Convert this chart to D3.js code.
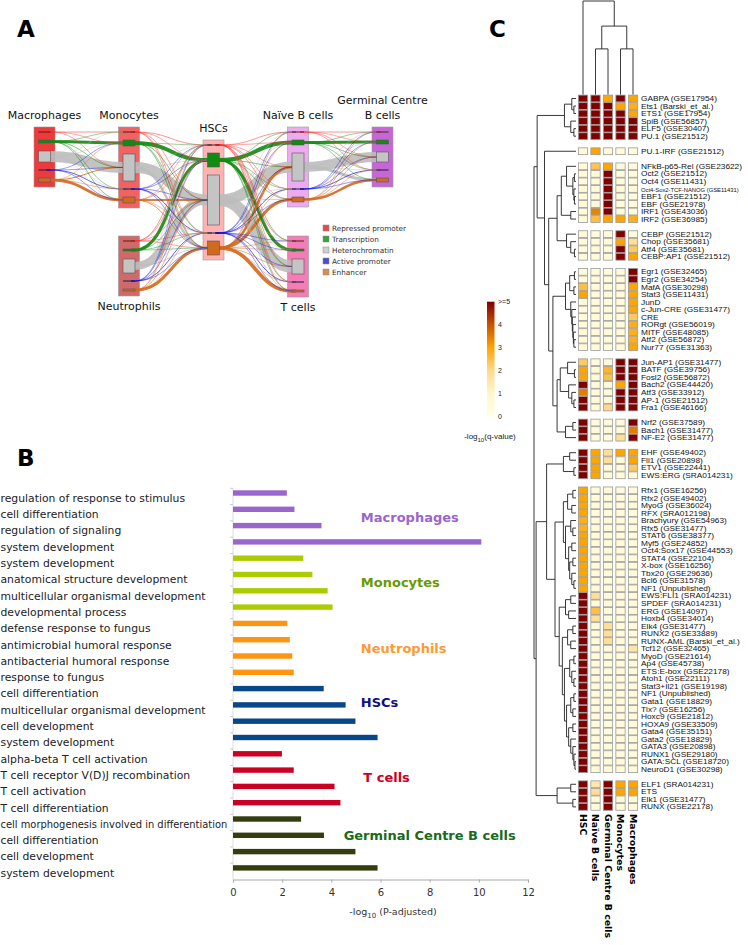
<!DOCTYPE html>
<html><head><meta charset="utf-8">
<script src="https://cdn.jsdelivr.net/npm/d3@7"></script>
<style>body{margin:0;background:#fff}svg{display:block}</style>
</head><body>
<svg id="fig" width="748" height="945"></svg>
<script>
// ================= DATA =================
// ---- Panel A: chromatin state flows
const cellTypes = ["Macrophages","Monocytes","HSCs","Naïve B cells","Germinal Centre B cells","Neutrophils","T cells"];
const cellLabelLines = [["Macrophages"],["Monocytes"],["HSCs"],["Naïve B cells"],["Germinal Centre","B cells"],["Neutrophils"],["T cells"]];
const cellColumn = [0,1,2,3,4,1,3];
const cellTier = ["upper","upper","middle","upper","upper","lower","lower"];
const states = ["Repressed promoter","Transcription","Heterochromatin","Active promoter","Enhancer"];
// relative size of each state (R,T,H,A,E) per cell type
const stateSizeMac  = [0,3,11,0,4];
const stateSizeMono = [0,6,27,0,6];
const stateSizeHSC  = [0,14,50,0,14];
const stateSizeNaive= [0,5,28,0,5];
const stateSizeGC   = [0,4,10,0,4];
const stateSizeNeu  = [0,2,14,0,2];
const stateSizeT    = [0,2,15,0,2];
const stateSizes = [stateSizeMac,stateSizeMono,stateSizeHSC,stateSizeNaive,stateSizeGC,stateSizeNeu,stateSizeT];
const flowPairs = [["Macrophages","Monocytes"],["Monocytes","HSCs"],["Neutrophils","HSCs"],["HSCs","Naïve B cells"],["HSCs","T cells"],["Naïve B cells","Germinal Centre B cells"]];
const flowMacMono = [[0.6,0.5,0.5,0,0],[0.5,3,0.6,0.5,0.6],[0.5,0.6,11,0.5,0.5],[0,0.5,0.5,0.8,0.5],[0,0.5,1,0.5,3]];
const flowMonoHSC = [[0.6,0.5,0.5,0.5,0.5],[0.5,4,0.6,0.5,0.6],[0.5,0.6,11,0.5,2.5],[0.5,0.5,0.5,0.8,0.5],[0.5,0.5,2,0.5,0.8]];
const flowNeuHSC  = [[0.6,0.5,0.5,0.5,0.5],[0.5,3,0.5,0.5,0.5],[0.5,0.5,8,0.5,0.8],[0.5,0.5,0.5,0.8,0.5],[0.5,0.5,0.6,0.5,3]];
const flowHSCNaive= [[0.6,0.5,0.5,0.5,0.5],[0.5,4,0.6,0.5,0.5],[0.5,0.6,11,0.5,0.8],[0.5,0.5,0.5,0.8,0.5],[0.5,0.5,2.5,0.5,3]];
const flowHSCT    = [[0.6,0.5,0.5,0.5,0.5],[0.5,3,0.5,0.5,0.5],[0.5,0.5,12,0.5,0.8],[0.5,0.5,0.5,0.8,0.5],[0.5,0.5,0.6,0.5,3.5]];
const flowNaiveGC = [[0.6,0.5,0.5,0.5,0],[0.5,3,0.6,0.5,0.5],[0.5,0.6,10,0.5,3],[0.5,0.5,0.5,0.8,0.5],[0.5,0.5,0.6,0.5,2.5]];
const flowMatrices = [flowMacMono,flowMonoHSC,flowNeuHSC,flowHSCNaive,flowHSCT,flowNaiveGC];

// ---- Panel B: GO enrichment
const goTerms = ["regulation of response to stimulus","cell differentiation","regulation of signaling","system development",
 "system development","anatomical structure development","multicellular organismal development","developmental process",
 "defense response to fungus","antimicrobial humoral response","antibacterial humoral response","response to fungus",
 "cell differentiation","multicellular organismal development","cell development","system development",
 "alpha-beta T cell activation","T cell receptor V(D)J recombination","T cell activation","T cell differentiation",
 "cell morphogenesis involved in differentiation","cell differentiation","cell development","system development"];
const goValues = [2.19,2.5,3.6,10.1, 2.86,3.23,3.85,4.05, 2.21,2.31,2.41,2.47, 3.69,4.58,4.98,5.88, 1.99,2.47,4.13,4.37, 2.77,3.7,4.98,5.88];
const goGroupOf = [0,0,0,0,1,1,1,1,2,2,2,2,3,3,3,3,4,4,4,4,5,5,5,5];
const goGroups = ["Macrophages","Monocytes","Neutrophils","HSCs","T cells","Germinal Centre B cells"];
const goTicks = [0,2,4,6,8,10,12];
const goLabelRow = [1.76,5.75,9.8,13.1,17.76,21.3];
const goLabelValue = [5.2,5.2,5.2,5.2,5.3,4.5];

// ---- Panel C: motif enrichment heatmap
const motifColumns = ["HSC","Naïve B cells","Germinal Centre B cells","Monocytes","Macrophages"];
const motifs = ["GABPA (GSE17954)","Ets1 (Barski_et_al.)","ETS1 (GSE17954)","SpiB (GSE56857)","ELF5 (GSE30407)","PU.1 (GSE21512)",
 "PU.1-IRF (GSE21512)",
 "NFkB-p65-Rel (GSE23622)","Oct2 (GSE21512)","Oct4 (GSE11431)","Oct4-Sox2-TCF-NANOG (GSE11431)","EBF1 (GSE21512)","EBF (GSE21978)","IRF1 (GSE43036)","IRF2 (GSE36985)",
 "CEBP (GSE21512)","Chop (GSE35681)","Atf4 (GSE35681)","CEBP:AP1 (GSE21512)",
 "Egr1 (GSE32465)","Egr2 (GSE34254)","MafA (GSE30298)","Stat3 (GSE11431)","JunD","c-Jun-CRE (GSE31477)","CRE","RORgt (GSE56019)","MITF (GSE48085)","Atf2 (GSE56872)","Nur77 (GSE31363)",
 "Jun-AP1 (GSE31477)","BATF (GSE39756)","Fosl2 (GSE56872)","Bach2 (GSE44420)","Atf3 (GSE33912)","AP-1 (GSE21512)","Fra1 (GSE46166)",
 "Nrf2 (GSE37589)","Bach1 (GSE31477)","NF-E2 (GSE31477)",
 "EHF (GSE49402)","Fli1 (GSE20898)","ETV1 (GSE22441)","EWS:ERG (SRA014231)",
 "Rfx1 (GSE16256)","Rfx2 (GSE49402)","MyoG (GSE36024)","RFX (SRA012198)","Brachyury (GSE54963)","Rfx5 (GSE31477)","STAT6 (GSE38377)","Myf5 (GSE24852)","Oct4:Sox17 (GSE44553)","STAT4 (GSE22104)","X-box (GSE16256)","Tbx20 (GSE29636)","Bcl6 (GSE31578)","NF1 (Unpublished)",
 "EWS:FLI1 (SRA014231)","SPDEF (SRA014231)","ERG (GSE14097)","Hoxb4 (GSE34014)","Elk4 (GSE31477)","RUNX2 (GSE33889)","RUNX-AML (Barski_et_al.)","Tcf12 (GSE32465)",
 "MyoD (GSE21614)","Ap4 (GSE45738)","ETS:E-box (GSE22178)","Atoh1 (GSE22111)","Stat3+Il21 (GSE19198)","NF1 (Unpublished)","Gata1 (GSE18829)","Tlx? (GSE16256)","Hoxc9 (GSE21812)","HOXA9 (GSE33509)","Gata4 (GSE35151)","Gata2 (GSE18829)","GATA3 (GSE20898)","RUNX1 (GSE29180)","GATA:SCL (GSE18720)","NeuroD1 (GSE30298)",
 "ELF1 (SRA014231)","ETS","Elk1 (GSE31477)","RUNX (GSE22178)"];
const motifBlockSizes = [6,1,8,4,11,7,3,4,38,4];
const scoreHSC = [5,5,5,5,5,5, .5, .5,.5,.5,.5,.5,.5,.5,.5, .5,.5,.5,.5,
 .5,.5,2.5,3,.5,.5,.5,.5,.5,.5,.5, 2.3,3,3,5,3.5,5,5, 5,5,5, 5,5,5,5,
 3,3,3,3,2.8,2.8,3,3,3,3,3,3,3,3,
 5,5,5,5,5,5,5,5, 5,5,5,5,5,5,5,5,5,5,5,5,5,5,5,5, 5,5,5,5];
const scoreNaive = [5,5,5,5,5,5, 3, 2.4,.5,.5,.5,.5,.5,3.4,2.5, .5,.5,.5,.5,
 .5,.5,.5,.5,.5,.5,.5,.5,.5,.5,.5, .5,.5,.5,.5,.5,.5,.5, .5,.5,.5, 3,3,3,3,
 .5,.5,.5,.5,.5,.5,.5,.5,.5,.5,.5,.5,.5,.5,
 1.8,.5,2.5,1.8,.5,.5,.5,.5, .5,.5,.5,.5,.5,.5,.5,.5,.5,.5,.5,.5,.5,.5,.5,.5, 1.5,1.8,.5,.5];
const scoreGC = [3,5,5,5,5,5, .5, 3,5,5,5,5,5,5,3, .5,.5,.5,.5,
 .5,.5,.5,.5,.5,.5,.5,.5,.5,.5,.5, .5,2.7,2.5,.5,.5,.5,2, .5,.5,.5, 1.8,1.8,.5,.5,
 .5,.5,.5,.5,.5,.5,.5,.5,.5,.5,.5,.5,.5,.5,
 .5,.5,.5,.5,1.8,1.8,1.8,.5, .5,.5,.5,.5,.5,.5,.5,.5,.5,.5,.5,.5,.5,.5,.5,.5, 5,5,5,5];
const scoreMono = [5,3,5,5,5,5, .5, .5,.5,.5,.5,.5,.5,.5,3, 5,3,5,5,
 .5,.5,.5,.5,.5,.5,.5,.5,.5,.5,.5, 5,5,5,3,5,5,5, .5,.5,1.8, 3,.5,.5,.5,
 .5,.5,.5,.5,.5,.5,.5,.5,.5,.5,.5,.5,.5,.5,
 .5,.5,.5,.5,.5,.5,.5,.5, .5,.5,.5,.5,.5,.5,.5,.5,.5,.5,.5,.5,.5,.5,.5,.5, 3,3,.5,.5];
const scoreMac = [3,2.8,3,5,5,5, .5, .5,.5,.5,.5,.5,.5,.5,2.8, .5,1.8,2.3,3,
 5,5,3,3,3,3,2.3,2.8,2.8,2.8,3, 5,5,5,5,5,5,5, 5,3.5,5, 3,3,2.3,.5,
 .5,.5,.5,.5,.5,.5,.5,.5,.5,.5,.5,.5,.5,.5,
 .5,.5,.5,.5,.5,.5,.5,1.6, .5,.5,.5,.5,.5,.5,.5,.5,.5,.5,.5,.5,.5,.5,.5,.5, 3,3,.5,.5];
const motifScores = [scoreHSC,scoreNaive,scoreGC,scoreMono,scoreMac];
const legendTicks = [0,1,2,3,4,5];
const legendTickLabels = ["0","1","2","3","4",">=5"];
// row dendrogram: [height, left, right], leaves = row index
const rowTree = [40,
 [37, [11,[4,0,[2,1,2]],[5,3,[2,4,5]]],
   [30, 6,
     [26,
       [18, [14,[9,7,[3,[1.5,8,9],[2,10,[1.5,11,12]]]],[5,13,14]], [9,15,[5,16,[1.5,17,18]]]],
       [22, [10,[6,[1.5,19,20],[2,21,22]],[5,23,[4,24,[3.5,25,[3,26,[2.5,27,[2,28,29]]]]]]],
            [18, [15,[8,30,[1.5,31,32]],[7,33,[4,34,[2,35,36]]]], [10,[3,37,38],39]]]]]],
 [38,
   [28, [12,[6,40,41],[2,42,43]],
        [20, [12,[8,[3,44,45],[4,46,47]],[10,[5,48,[3,49,50]],[7,[4,51,52],[6,[3,53,54],[4,55,[2,56,57]]]]]],
             [16,[10,[5,58,59],[7,60,61]],[13,[8,[3,62,63],[5,64,65]],[11,[6,[2,66,67],[4,68,[2,69,70]]],[9,[5,[2,71,72],[3,73,74]],[7,[3,75,76],[5,77,[3,78,[2,79,[1,80,81]]]]]]]]]]],
   [18,[5,82,83],[3,84,85]]]];
// column dendrogram (columns by index)
const colTree = [2.05, 0, [1.5, [1.0,1,2], [1.0,3,4]]];

// ================= DRAW =================
const svg = d3.select("#fig");
const SANS = "'DejaVu Sans', sans-serif";
const ARIAL = "'Liberation Sans', Arial, sans-serif";

svg.selectAll("text.panel").data([["A",17,37],["B",17,466],["C",489,37]]).join("text")
  .attr("x",d=>d[1]).attr("y",d=>d[2]).text(d=>d[0])
  .attr("font-family",SANS).attr("font-weight","bold").attr("font-size",23).attr("fill","#000");

// ---------- Panel A ----------
const gA = svg.append("g");
const colX = d3.scaleLinear().domain([0,4]).range([44.5,382.5]);
const tierTop = d3.scaleOrdinal().domain(["upper","middle","lower"]).range([127,140,236]);
const PAD=5, GAP=8, BOXW=21, INW=12;
const boxFill = ["#ee3a3a","#f16262","#ffb2b2","#eeaaf0","#c767d6","#d06a6a","#f47db5"];
const linkColor = ["#ff2a2a","#118a11","#bdbdbd","#1414e0","#d2691e"];
const legendColor = ["#e84a4a","#3da03d","#cfcfcf","#4b4bd6","#d98c56"];
const nodes = cellTypes.map((name,i)=>{
  const top = tierTop(cellTier[i]);
  let y = top + PAD;
  const st = stateSizes[i].map(s=>{const o={y0:y,y1:y+s,yc:y+s/2,s}; y += s+GAP; return o;});
  return {name, i, x:colX(cellColumn[i]), top, bottom:y-GAP+PAD, st, tier:cellTier[i]};
});
const byName = Object.fromEntries(nodes.map(n=>[n.name,n]));
gA.selectAll("rect.box").data(nodes).join("rect")
  .attr("x",d=>d.x-BOXW/2).attr("y",d=>d.top).attr("width",BOXW).attr("height",d=>d.bottom-d.top)
  .attr("fill",(d,i)=>boxFill[i]).attr("stroke","#999").attr("stroke-width",0.6);
const links = [];
flowPairs.forEach((p,pi)=>{
  const s = byName[p[0]], t = byName[p[1]];
  flowMatrices[pi].forEach((row,a)=>row.forEach((w,b)=>{ if(w>0) links.push({s,t,a,b,w}); }));
});
links.sort((u,v)=>v.w-u.w);
const lp = d=>{const x0=d.s.x+INW/2, y0=d.s.st[d.a].yc, x1=d.t.x-INW/2, y1=d.t.st[d.b].yc, xm=(x0+x1)/2;
  return `M${x0-4},${y0}L${x0},${y0}C${xm},${y0} ${xm},${y1} ${x1},${y1}L${x1+4},${y1}`;};
gA.selectAll("path.link").data(links).join("path")
  .attr("d",lp).attr("fill","none").attr("stroke",d=>linkColor[d.a])
  .attr("stroke-width",d=>d.w).attr("stroke-opacity",d=>d.w>2?0.9:0.85);
nodes.forEach(n=>{
  n.st.forEach((s,k)=>{
    if(s.s>0){
      gA.append("rect").attr("x",n.x-INW/2).attr("y",s.y0).attr("width",INW).attr("height",s.s)
        .attr("fill",k===1?"#138a13":k===2?"#c4c4c4":"#cf6a1e").attr("stroke","#555").attr("stroke-width",0.6);
    } else {
      gA.append("line").attr("x1",n.x-INW/2).attr("x2",n.x+INW/2).attr("y1",s.y0).attr("y2",s.y0)
        .attr("stroke",k===0?"#5a1a1a":"#1a1a5a").attr("stroke-width",1);
    }
  });
  const lines = cellLabelLines[n.i];
  lines.forEach((ln,j)=>{
    const y = n.tier==="lower" ? n.bottom+14+j*14 : n.top-8-(lines.length-1-j)*15;
    gA.append("text").attr("x",n.x).attr("y",y).attr("text-anchor","middle").text(ln)
      .attr("font-family",SANS).attr("font-size",11).attr("fill","#111");
  });
});
const legA = gA.append("g");
states.forEach((s,k)=>{
  legA.append("rect").attr("x",323).attr("y",225+k*11).attr("width",6).attr("height",6)
    .attr("fill",legendColor[k]).attr("stroke","#888").attr("stroke-width",0.5);
  legA.append("text").attr("x",332).attr("y",230.5+k*11).text(s)
    .attr("font-family",SANS).attr("font-size",7.3).attr("fill","#333");
});

// ---------- Panel B ----------
const gB = svg.append("g");
const goBarColor = ["#9a66cc","#aacc00","#ff9411","#0a468a","#cc0022","#343e0c"];
const goLabelColor = ["#9a66cc","#6a9a00","#ff9933","#10107a","#cc0022","#1a6a1a"];
const gx = d3.scaleLinear().domain([0,12]).range([233,528]);
const gy = d3.scaleBand().domain(d3.range(goTerms.length)).range([488.3,879.5]);
gB.append("line").attr("x1",233).attr("x2",233).attr("y1",gy.range()[0]).attr("y2",gy.range()[1]).attr("stroke","#ddd");
gB.selectAll("line.lt").data(goTerms).join("line")
  .attr("x1",230).attr("x2",233).attr("y1",(d,i)=>gy(i)).attr("y2",(d,i)=>gy(i)).attr("stroke","#ccc");
gB.selectAll("rect.bar").data(goValues).join("rect")
  .attr("x",gx(0)).attr("y",(d,i)=>gy(i)+2).attr("width",d=>gx(d)-gx(0)).attr("height",5.4)
  .attr("fill",(d,i)=>goBarColor[goGroupOf[i]]);
gB.selectAll("text.term").data(goTerms).join("text")
  .attr("x",0.5).attr("y",(d,i)=>gy(i)+gy.bandwidth()/2+5.4).text(d=>d)
  .attr("font-family",SANS).attr("font-size",10.8).attr("fill","#222")
  .each(function(){const L=this.getComputedTextLength(); if(L>228) d3.select(this).attr("font-size",10.8*227/L);});
goGroups.forEach((g,k)=>{
  gB.append("text").attr("x",gx(goLabelValue[k])).attr("y",gy.range()[0]+gy.step()*goLabelRow[k]+4.7).text(g)
    .attr("font-family",SANS).attr("font-weight","bold").attr("font-size",13).attr("fill",goLabelColor[k]);
});
const xAxis = gB.append("g").attr("transform",`translate(0,${gy.range()[1]})`)
  .call(d3.axisBottom(gx).tickValues(goTicks).tickSize(3).tickPadding(6).tickFormat(d3.format("d")));
xAxis.select(".domain").attr("stroke","#aaa");
xAxis.selectAll(".tick line").attr("stroke","#aaa");
xAxis.selectAll("text").attr("font-family",SANS).attr("font-size",10).attr("fill","#333");
const xt = gB.append("text").attr("x",393).attr("y",915).attr("text-anchor","middle")
  .attr("font-family",SANS).attr("font-size",9.5).attr("fill","#333");
xt.append("tspan").text("-log");
xt.append("tspan").attr("dy",3).attr("font-size",7).text("10");
xt.append("tspan").attr("dy",-3).text(" (P-adjusted)");

// ---------- Panel C ----------
const gC = svg.append("g");
const color = d3.scaleLinear().domain([0,1,2,3,4,5])
  .range(["#ffffe6","#fff6cc","#ffd98a","#ffa500","#c65400","#800000"]).clamp(true);
const slotOf = []; let slot=0;
motifBlockSizes.forEach((n,b)=>{for(let i=0;i<n;i++){slotOf.push(slot); slot++;} slot++;});
const cy = d3.scaleLinear().domain([0, slot-1]).range([94.7, 94.7+7.536*(slot-1)]);
const cx = d3.scalePoint().domain(d3.range(motifColumns.length)).range([583,633]);
const CW = 9.3, CH = 6.8;
motifScores.forEach((col,c)=>{
  gC.selectAll(null).data(col).join("rect")
    .attr("x",cx(c)-CW/2).attr("y",(d,i)=>cy(slotOf[i])+0.4).attr("width",CW).attr("height",CH)
    .attr("fill",d=>color(d)).attr("stroke","#9a9a9a").attr("stroke-width",0.8);
});
gC.selectAll("text.motif").data(motifs).join("text")
  .attr("x",641).attr("y",(d,i)=>cy(slotOf[i])+CH/2+3.0).text(d=>d)
  .attr("font-family",ARIAL).attr("font-size",8.3).attr("fill","#111")
  .each(function(){
    const L=this.getComputedTextLength();
    if(L>122){
      d3.select(this).attr("font-size",8.3*98/L);
    } else {
      d3.select(this).attr("font-size",7.2).attr("textLength",Math.min(L,104)).attr("lengthAdjust","spacingAndGlyphs");
    }
  });
motifColumns.forEach((c,k)=>{
  gC.append("text").attr("transform",`translate(${cx(k)-3.4},814) rotate(90)`).text(c)
    .attr("font-family",SANS).attr("font-weight","bold").attr("font-size",9.4).attr("fill","#000");
});
const hx = d3.scaleLinear().domain([0,40]).range([576,534]);
function drawRow(node){
  if(typeof node==="number") return {y:cy(slotOf[node])+0.4+CH/2, h:0};
  const [h,l,r] = node; const a=drawRow(l), b=drawRow(r); const x=hx(h);
  gC.append("path").attr("d",`M${hx(a.h)},${a.y}H${x}V${b.y}H${hx(b.h)}`)
    .attr("fill","none").attr("stroke","#222").attr("stroke-width",0.9);
  return {y:(a.y+b.y)/2, h};
}
drawRow(rowTree);
const hy = d3.scaleLinear().domain([0,2.05]).range([94.5,1]);
function drawCol(node){
  if(typeof node==="number") return {x:cx(node), h:0};
  const [h,l,r] = node; const a=drawCol(l), b=drawCol(r); const y=hy(h);
  gC.append("path").attr("d",`M${a.x},${hy(a.h)}V${y}H${b.x}V${hy(b.h)}`)
    .attr("fill","none").attr("stroke","#222").attr("stroke-width",0.9);
  return {x:(a.x+b.x)/2, h};
}
drawCol(colTree);
const ly = d3.scaleLinear().domain([0,5]).range([416.7,301.7]);
const grad = svg.append("defs").append("linearGradient").attr("id","key").attr("x1",0).attr("x2",0).attr("y1",1).attr("y2",0);
legendTicks.forEach(v=>grad.append("stop").attr("offset",v/5).attr("stop-color",color(v)));
gC.append("rect").attr("x",487).attr("y",ly(5)).attr("width",7.5).attr("height",ly(0)-ly(5)).attr("fill","url(#key)");
gC.selectAll("text.kt").data(legendTicks).join("text")
  .attr("x",498).attr("y",d=>ly(d)+2.5).text((d,i)=>legendTickLabels[i])
  .attr("font-family",ARIAL).attr("font-size",7).attr("fill","#222");
const kt = gC.append("text").attr("x",490).attr("y",439).attr("text-anchor","middle")
  .attr("font-family",ARIAL).attr("font-size",8).attr("fill","#222");
kt.append("tspan").text("-log");
kt.append("tspan").attr("dy",2.5).attr("font-size",6).text("10");
kt.append("tspan").attr("dy",-2.5).text("(q-value)");
</script>
</body></html>
